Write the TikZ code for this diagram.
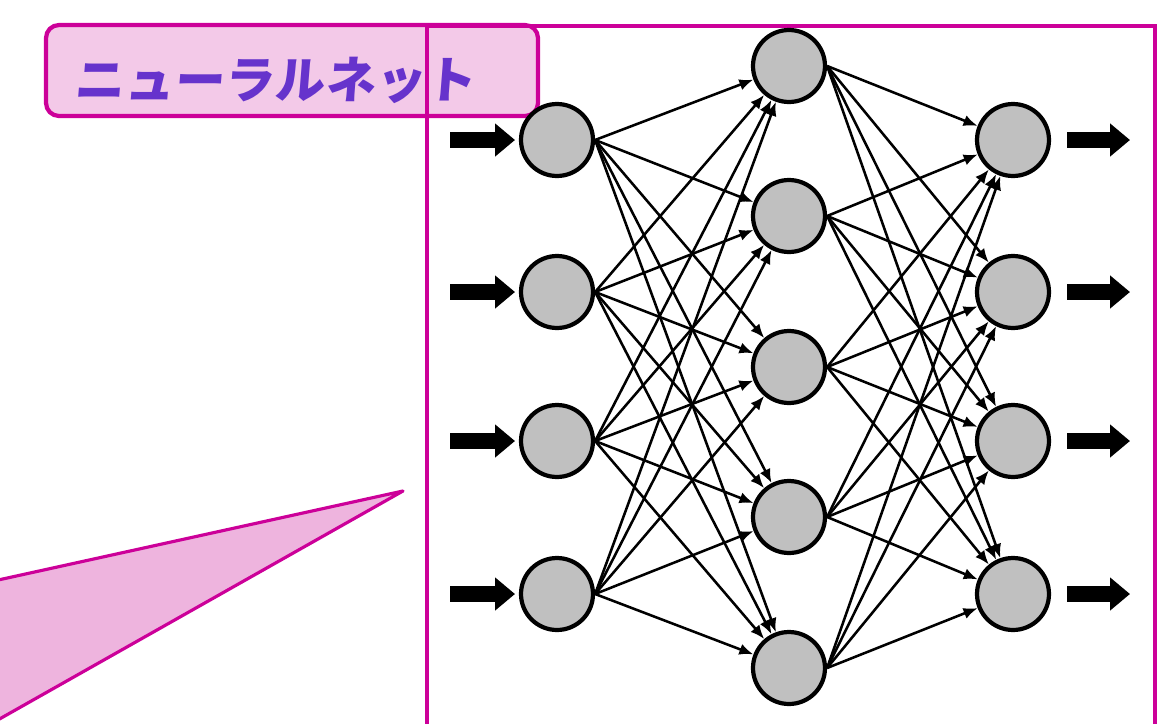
\documentclass[tikz,border=0pt]{standalone}
\usepackage{fontspec}
\newfontfamily\cjk{Noto Sans CJK JP}[FakeSlant=0.08]
\usetikzlibrary{arrows.meta}
\definecolor{mag}{RGB}{204,0,153}
\definecolor{titlefill}{RGB}{243,201,232}
\definecolor{trifill}{RGB}{238,180,222}
\definecolor{titletext}{RGB}{102,51,204}
\definecolor{nodegray}{RGB}{192,192,192}
\tikzset{
  neuron/.style={circle, draw=black, line width=2.4pt, fill=nodegray, minimum size=1.44cm, inner sep=0pt},
  link/.style={line width=1.45pt, -{Latex[length=8pt,width=6.5pt]}},
  bigarrow/.style={line width=0.33cm, -{Triangle[length=0.4cm,width=0.64cm]}},
  frameline/.style={draw=mag, line width=2pt},
  titlebox/.style={draw=mag, line width=2.4pt, fill=titlefill, rounded corners=0.26cm},
  callout/.style={draw=mag, line width=1.8pt, fill=trifill, line join=round}
}
\begin{document}
\begin{tikzpicture}[x=0.02cm,y=-0.02cm]
\useasboundingbox (0,0) rectangle (1171,724);
\clip (0,0) rectangle (1171,724);
% callout triangle
\draw[callout] (-20,584) -- (403,491) -- (-20,730) -- cycle;
% title box
\draw[titlebox] (46,25) rectangle (538,116);
\node[text=titletext, font=\cjk\bfseries\fontsize{28.5}{32}\selectfont, inner sep=0pt] (title) at (275,80) {ニューラルネット};
% frame
\draw[frameline] (427,740) -- (427,26) -- (1155,26) -- (1155,740);
% neurons
\foreach \i/\y in {1/140,2/292,3/441,4/594}{
  \node[neuron] (i\i) at (557,\y) {};
  \node[neuron] (o\i) at (1013,\y) {};
  \coordinate (ia\i) at (450,\y);
  \coordinate (ie\i) at (515,\y);
  \coordinate (oa\i) at (1067,\y);
  \coordinate (oe\i) at (1130,\y);
}
\foreach \j/\y in {1/66,2/216,3/367,4/517,5/668}{
  \node[neuron] (h\j) at (789,\y) {};
}
% links
\foreach \i in {1,...,4}{
  \foreach \j in {1,...,5}{
    \draw[link] (i\i.east) -- (h\j);
    \draw[link] (h\j.east) -- (o\i);
  }
}
% input / output arrows
\foreach \i in {1,...,4}{
  \draw[bigarrow] (ia\i) -- (ie\i);
  \draw[bigarrow] (oa\i) -- (oe\i);
}
\end{tikzpicture}
\end{document}
